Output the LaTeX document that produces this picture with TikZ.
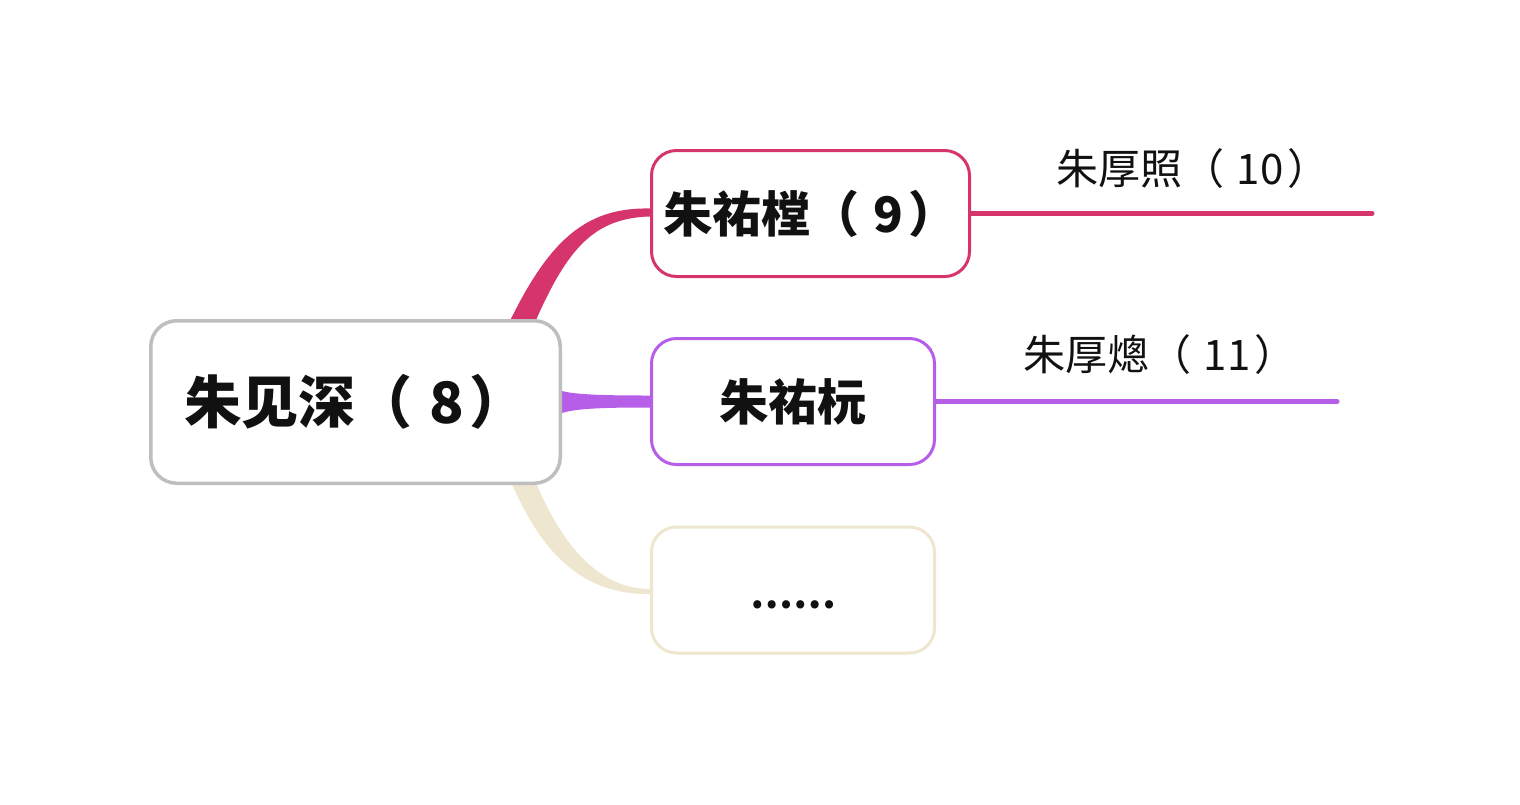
\documentclass[tikz,border=0pt]{standalone}
\usepackage{fontspec}
\setmainfont{Noto Sans CJK SC}
\usetikzlibrary{calc,positioning,backgrounds}
\definecolor{mingPink}{RGB}{214,52,108}
\definecolor{mingPurple}{RGB}{182,94,232}
\definecolor{mingCream}{RGB}{238,230,206}
\definecolor{mingGray}{RGB}{190,190,190}
\definecolor{mingInk}{RGB}{17,17,17}
\newcommand{\genno}[1]{（\hspace{.3em}#1\hspace{.1em}）}
\tikzset{
  topicbox/.style={draw, fill=white, rounded corners=12.5pt, line width=1.5pt,
    text=mingInk, font=\bfseries\fontsize{24.5}{28}\selectfont,
    minimum height=63pt, inner sep=0pt},
  rootbox/.style={topicbox, draw=mingGray, line width=1.75pt, rounded corners=13pt,
    font=\bfseries\fontsize{28.5}{34}\selectfont,
    minimum width=204.75pt, minimum height=81.25pt},
  leafline/.style={line width=2.5pt, line cap=round},
  leaflabel/.style={text=mingInk, font=\fontsize{21}{25}\selectfont, inner sep=0pt},
}

\begin{document}
\begin{tikzpicture}[x=0.5pt,y=-0.5pt]
\useasboundingbox (0,0) rectangle (1520,804);
% topics
\node[rootbox] (root) at (355.5,402) {朱见深\genno{8}};
\node[topicbox, draw=mingPink, minimum width=159pt] (son1) at (810.5,213.5) {朱祐樘\genno{9}};
\node[topicbox, draw=mingPurple, minimum width=141.5pt] (son2) at (793,401.5) {朱祐杬};
\node[topicbox, draw=mingCream, minimum width=141.5pt] (more) at (793,590)
  {\raisebox{-9pt}[0pt][0pt]{\fontsize{19}{20}\selectfont ……}};
% grandsons
\coordinate (end1) at ($(son1.east)+(401,0)$);
\coordinate (end2) at ($(son2.east)+(401,0)$);
\node[leaflabel] (grand1) at ($(son1.east)+(222,-45)$) {朱厚照\genno{10}};
\node[leaflabel] (grand2) at ($(son2.east)+(224,-47)$) {朱厚熜\genno{11}};
\begin{scope}[on background layer]
\fill[white] (0,0) rectangle (1520,804);
\draw[leafline, mingPink] (son1.east) -- (end1);
\draw[leafline, mingPurple] (son2.east) -- (end2);
% branches
\fill[mingPink] ($(root.north east)+(-56,10)$)
  .. controls +(41,-86) and +(-66.5,-1.5) .. ($(son1.west)+(0,-5)$)
  -- ($(son1.west)+(0,3)$)
  .. controls +(-59.5,1.5) and +(33,-76) .. ($(root.north east)+(-30,10)$) -- cycle;
\fill[mingPurple] ($(root.east)+(-10,-11)$) -- ($(root.east)+(0,-11)$)
  .. controls +(15,4) and +(-40,0) .. ($(son2.west)+(0,-6)$)
  -- ($(son2.west)+(0,6)$)
  .. controls +(-40,0) and +(15,-5) .. ($(root.east)+(0,11)$)
  -- ($(root.east)+(-10,11)$) -- cycle;
\fill[mingCream] ($(root.south east)+(-54,-10)$)
  .. controls +(31,75) and +(-70,1) .. ($(more.west)+(0,4)$)
  -- ($(more.west)+(0,-1)$)
  .. controls +(-58,0) and +(22,57) .. ($(root.south east)+(-29,-10)$) -- cycle;
\end{scope}
\end{tikzpicture}
\end{document}
